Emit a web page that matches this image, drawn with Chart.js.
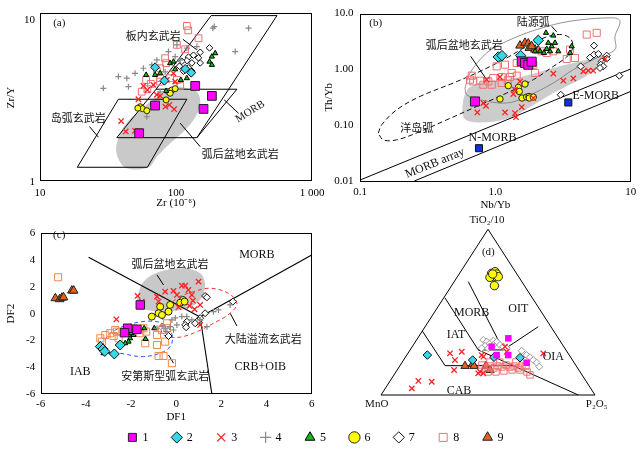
<!DOCTYPE html>
<html><head><meta charset="utf-8">
<script src="https://cdn.jsdelivr.net/npm/chart.js@4.4.1/dist/chart.umd.min.js"></script>
<style>
body{margin:0;background:#fff;width:642px;height:449px;overflow:hidden;position:relative}
canvas{position:absolute}
</style></head><body>
<canvas id="ca" width="332" height="215" style="left:0;top:0"></canvas>
<canvas id="cb" width="322" height="215" style="left:320px;top:0"></canvas>
<canvas id="cc" width="322" height="205" style="left:0;top:220px"></canvas>
<canvas id="cd" width="312" height="200" style="left:330px;top:215px"></canvas>
<canvas id="cl" width="642" height="80" style="left:-5px;top:407px"></canvas>
<script>
// ---------- Panel (a): Zr (x) vs Zr/Y (y) ----------
const A1 = [[138.4,3.93],[183.6,3.41],[159.3,2.83],[70.2,2.97],[53.6,2.0]];
const A2 = [[70.2,5.13],[82.2,4.24],[116.8,5.01],[129.3,4.75]];
const A3 = [[52.9,3.25],[61.6,3.71],[72.3,3.46],[76.4,3.41],[83.6,2.92],[89.5,3.0],[96.9,2.82],[39.5,2.38],[42.7,2.05],[50.0,2.07],[95.8,4.71],[85.6,4.28],[98.6,4.18],[57.6,3.93],[68.2,3.99]];
const A4 = [[29.2,3.80],[37.7,4.49],[43.5,4.39],[44.7,3.89],[50.0,4.71],[57.6,5.06],[66.4,5.31],[72.3,5.70],[88.0,6.42],[98.6,5.98],[101.5,7.07],[120.2,6.74],[142.4,6.90],[186.7,8.97],[190.9,9.18],[341.6,8.97],[272.5,6.42],[61.0,2.53],[76.4,3.61],[107.3,5.70],[83.2,4.80]];
const A5 = [[70.2,4.60],[76.4,4.71],[90.6,5.44],[98.6,4.99],[108.6,4.28],[120.2,4.39],[183.6,5.98],[194.2,6.27],[176.3,5.56],[183.6,5.31],[84.6,3.66],[95.8,5.56],[60.3,4.60]];
const A6 = [[88.0,3.62],[93.2,3.71],[98.6,3.78],[90.6,3.54],[54.5,2.92],[56.6,2.84],[61.0,2.76],[68.2,3.02],[84.6,3.22],[52.4,2.86]];
const A7 = [[176.3,6.77],[150.6,6.36],[134.4,6.10],[146.3,5.87],[123.5,5.93],[120.2,5.64],[110.4,5.59],[130.8,5.46],[150.6,5.46],[106.0,5.21],[123.5,5.08],[130.8,4.85],[113.4,4.85]];
const A8 = [[120.2,9.27],[123,8.7],[146.3,7.77],[101.5,7.07],[116.8,6.64],[83.2,5.84],[84.6,5.44],[76.4,5.06],[72.3,4.82],[60.3,4.28],[56.0,3.62],[61.6,3.75],[76.4,4.18],[90.6,4.39],[101.5,4.28],[107.3,3.93],[65.3,4.05],[76.4,4.39]];
const A_WPB = [[71.4,3.75],[181.4,10.74],[552.7,10.74],[142.4,1.876]];
const A_MORB = [[71.4,3.75],[280.5,3.75],[142.4,1.876],[36.7,1.876],[71.4,3.75]];
const A_IAB = [[37.7,3.25],[120.2,3.25],[61.6,1.229],[18.8,1.229],[37.7,3.25]];
const A_BAB = [[107.3,3.89],[142.4,3.62],[150.6,2.995],[134.4,2.416],[113.4,2.045],[90.6,1.732],[72.3,1.43],[62.7,1.229],[43.5,1.211],[37.1,1.43],[36.7,1.732],[42.2,2.25],[54.5,2.79],[72.3,3.34],[90.6,3.75],[107.3,3.89]];
const A_LEAD = [[[112.3,7.66],[142.4,6.58]],[[23.1,2.20],[26.9,1.887]],[[226.1,3.22],[288.2,2.66]],[[107.3,2.31],[150.6,1.65]]];
const A_XTICKS = [10,100,1000];
const A_YTICKS = [1,10];

// ---------- Panel (b): Nb/Yb (x) vs Th/Yb (y) ----------
const B1 = [[1.566,1.39],[1.656,1.30],[1.751,1.21],[1.856,1.37],[0.707,0.266]];
const B2 = [[1.051,1.667],[1.12,1.76],[1.539,1.76],[2.076,3.31]];
const B3 = [[0.736,0.169],[0.853,0.222],[0.815,0.249],[1.521,0.608],[1.397,0.431],[1.357,0.361],[1.178,0.169],[1.397,0.165],[1.421,0.139],[1.566,0.211],[1.907,0.306],[2.681,0.836],[3.177,0.626],[3.766,0.688],[4.466,0.919],[4.86,0.946],[5.29,0.946],[6.46,1.535],[0.863,0.652],[1.082,0.729]];
const B5 = [[2.367,4.50],[2.681,4.02],[2.462,2.976],[2.608,2.585],[2.758,2.976],[2.918,2.102],[2.535,2.102],[2.395,2.321],[2.288,1.967],[2.138,2.102],[1.963,2.102],[3.665,2.585],[3.561,1.967]];
const B6 = [[1.246,0.509],[1.478,0.474],[1.503,0.402],[1.656,0.546],[1.082,0.294],[1.574,0.306],[1.704,0.319],[1.772,0.327],[1.78,0.306],[1.907,0.319]];
const B7 = [[5.355,2.661],[5.355,1.834],[5.764,1.888],[6.65,1.76],[6.65,1.554],[6.107,1.39],[6.0,1.212],[6.275,1.13],[5.93,1.058],[4.27,1.13],[3.04,0.351],[8.24,0.769],[5.0,1.62]];
const B8 = [[4.73,4.195],[5.61,4.50],[3.561,2.256],[3.367,1.535],[3.877,1.60],[2.681,2.102],[2.395,1.967],[2.2,2.102],[1.438,1.301],[1.178,1.212],[1.023,1.13],[1.963,0.86],[1.907,1.212],[1.321,0.86],[1.283,0.729],[1.234,0.634],[1.114,0.729],[0.966,0.70],[0.887,0.608],[0.77,0.626],[0.687,0.608],[0.65,0.652],[0.669,0.769],[0.815,0.53],[0.94,0.53],[1.114,0.569],[1.438,0.769],[1.704,1.39]];
const B9 = [[1.521,2.661],[1.656,2.976],[1.751,2.89],[1.781,2.419],[1.963,2.256],[2.076,2.19],[1.856,2.585]];
const B_REF = [[0.757,0.0387],[3.46,0.255]]; // N-MORB, E-MORB
const B_MA1 = [[0.1,0.0104],[10,1.015]];
const B_MA2 = [[0.252,0.01],[10,0.402]];
const B_OA = [[0.1365,0.0719],[0.1446,0.1014],[0.1867,0.1885],[0.2776,0.3268],[0.489,0.5689],[0.770,0.919],[1.213,1.600],[1.704,2.585],[2.395,3.814],[3.092,4.195],[3.604,3.511],[3.728,2.419],[3.367,1.667],[2.681,1.130],[1.907,0.652],[1.213,0.376],[0.728,0.2161],[0.437,0.1246],[0.2776,0.0768],[0.1867,0.0545],[0.1486,0.0545],[0.1365,0.0719]];
const B_CA = [[0.597,0.4626],[0.650,0.860],[0.863,1.967],[1.213,3.18],[2.021,5.16],[3.561,7.27],[7.44,8.37],[8.34,7.27],[7.66,3.91],[7.66,2.256],[5.61,1.60],[3.766,0.986],[2.681,0.5689],[1.704,0.3268],[1.213,0.2487],[0.770,0.285],[0.614,0.3506],[0.597,0.4626]];
const B_BAB = [[0.631,0.4626],[0.770,0.583],[1.521,0.729],[2.681,1.058],[4.73,1.491],[6.107,1.667],[6.21,1.301],[4.73,0.769],[2.681,0.376],[1.704,0.194],[1.213,0.1283],[0.728,0.1115],[0.587,0.1338],[0.580,0.285],[0.631,0.4626]];
const B_LEAD = [[[2.608,5.91],[2.84,4.69]],[[0.6575,1.71],[0.863,0.652]]];
const B_XTICKS = [0.1,1,10];
const B_YTICKS = [0.01,0.1,1,10];

// ---------- Panel (c): DF1 (x) vs DF2 (y) ----------
const C1 = [[-1.59,0.65],[-2.15,-1.09],[-1.74,-1.17],[-2.29,-1.42]];
const C2 = [[-3.36,-2.46],[-3.24,-2.64],[-3.16,-2.82],[-2.48,-2.34],[-2.74,-3.01]];
const C3 = [[-2.65,-0.42],[-1.71,1.32],[-1.52,0.90],[-0.78,0.90],[-0.49,1.64],[-0.12,1.70],[0.03,1.40],[0.25,2.09],[0.40,2.09],[0.54,1.77],[0.69,1.40],[0.74,0.97],[0.99,2.39],[1.06,0.65],[0.81,0.33],[0.59,0.58],[0.10,0.48],[1.06,-0.84],[-0.85,1.27]];
const C4 = [[-0.85,-1.09],[-0.63,-0.92],[-0.49,-1.09],[-0.41,-1.34],[-0.27,-0.97],[-0.12,-1.22],[0.03,-0.84],[-0.19,-0.47],[0.25,-0.22],[0.47,-0.22],[0.69,-0.47],[1.36,-0.97],[1.65,0.15],[1.87,0.28],[2.39,0.65],[1.06,-0.47],[-0.04,-0.32]];
const C5 = [[-1.42,-1.09],[-0.97,-1.09],[-1.89,-1.59],[-2.04,-1.84],[-2.11,-2.09],[-2.26,-2.21],[-3.07,-2.84],[-3.22,-2.96],[-2.00,-1.46],[-1.81,-1.34],[-1.36,-1.89]];
const C6 = [[0.30,1.02],[0.18,0.82],[0.37,0.90],[-0.27,0.65],[-0.71,0.52],[-0.78,0.03],[-0.63,-0.10],[-0.34,0.15],[-1.08,-0.22]];
const C7 = [[1.28,1.32],[1.36,1.22],[1.28,0.03],[1.06,-0.34],[0.99,-0.52],[0.92,-0.60],[0.84,-0.72],[0.47,-0.60],[0.40,-0.84],[0.44,-1.02],[-0.34,-1.67],[2.51,0.90]];
const C8 = [[-5.23,2.72],[-3.36,-1.84],[-3.14,-1.59],[-2.92,-1.46],[-2.70,-1.22],[-2.77,-1.67],[-2.55,-1.84],[-2.62,-1.34],[-1.89,-1.09],[-1.45,-1.09],[-1.33,-1.34],[-1.37,-2.21],[-0.85,-2.34],[-0.85,-1.59],[-0.63,-1.22],[-0.41,-1.09],[-0.41,-0.72],[-0.49,-2.09],[-0.78,-3.16],[-0.56,-3.16],[-0.19,-3.70],[-3.29,-2.09],[-1.59,-1.46]];
const C9 = [[-5.35,1.15],[-5.16,1.08],[-5.06,1.19],[-4.99,1.22],[-4.62,1.72],[-4.54,1.72]];
const C_BOUND = [[[-3.88,4.21],[1.06,-0.25]],[[1.06,-0.25],[6.0,4.38]],[[1.06,-0.25],[1.58,-6]]];
const C_BAB = [[-1.74,1.15],[-1.45,2.39],[-0.71,3.14],[0.32,3.39],[1.06,3.02],[1.28,2.14],[1.06,1.02],[0.47,0.40],[-0.41,0.15],[-1.29,0.28],[-1.66,0.65],[-1.74,1.15]];
const C_CFB = [[-0.71,-0.97],[-0.41,0.28],[0.03,1.15],[0.77,1.64],[1.50,1.90],[2.31,1.52],[2.69,0.78],[2.39,0.03],[1.65,-0.72],[0.77,-1.46],[0.03,-1.78],[-0.56,-1.59],[-0.71,-0.97]];
const C_AND = [[-3.29,-2.46],[-2.92,-1.46],[-1.89,-0.72],[-0.85,-0.60],[-0.27,-1.22],[-0.19,-2.21],[-0.56,-2.84],[-1.45,-3.21],[-2.48,-2.96],[-3.14,-2.84],[-3.29,-2.46]];
const C_LEAD = [[[-0.85,2.89],[-0.56,2.14]],[[2.39,0.03],[2.69,-0.92]],[[-0.34,-3.08],[-0.12,-3.70]]];

// ---------- Panel (d): ternary [TiO2/10, MnO, P2O5] ----------
const D1 = [[0.342,0.234,0.424],[0.292,0.337,0.371],[0.241,0.339,0.420],[0.241,0.285,0.474],[0.195,0.222,0.583]];
const D2 = [[0.241,0.663,0.096],[0.211,0.466,0.323],[0.228,0.358,0.414],[0.225,0.238,0.537]];
const D3 = [[0.252,0.552,0.197],[0.211,0.549,0.240],[0.261,0.492,0.247],[0.151,0.583,0.266],[0.241,0.409,0.350],[0.231,0.406,0.363],[0.141,0.467,0.392],[0.131,0.480,0.389],[0.131,0.457,0.413],[0.292,0.275,0.434],[0.261,0.282,0.457],[0.040,0.836,0.124],[0.085,0.783,0.132],[0.080,0.723,0.197],[0.252,0.116,0.633]];
const D6 = [[0.735,0.116,0.150],[0.744,0.095,0.161],[0.730,0.094,0.176],[0.714,0.118,0.168],[0.710,0.136,0.154],[0.714,0.095,0.191],[0.660,0.140,0.200],[0.730,0.113,0.157]];
const D7 = [[0.332,0.356,0.312],[0.322,0.345,0.333],[0.312,0.335,0.353],[0.328,0.311,0.361],[0.322,0.298,0.380],[0.296,0.366,0.338],[0.282,0.389,0.329],[0.282,0.358,0.360],[0.302,0.293,0.405],[0.292,0.283,0.426],[0.282,0.272,0.446],[0.267,0.209,0.524],[0.241,0.199,0.560],[0.228,0.190,0.583],[0.211,0.183,0.606],[0.195,0.175,0.630],[0.171,0.175,0.654],[0.302,0.324,0.374]];
const D8 = [[0.181,0.438,0.381],[0.163,0.428,0.409],[0.175,0.403,0.422],[0.163,0.391,0.447],[0.175,0.366,0.459],[0.169,0.350,0.481],[0.181,0.325,0.494],[0.169,0.313,0.518],[0.175,0.291,0.534],[0.163,0.278,0.559],[0.175,0.254,0.571],[0.139,0.430,0.431],[0.139,0.393,0.468],[0.145,0.353,0.502],[0.151,0.312,0.537],[0.151,0.275,0.574],[0.139,0.248,0.613],[0.121,0.243,0.636],[0.175,0.235,0.590],[0.199,0.345,0.456],[0.199,0.391,0.410],[0.199,0.270,0.531]];
const D9 = [[0.175,0.520,0.305],[0.187,0.478,0.335],[0.175,0.478,0.347],[0.175,0.422,0.403],[0.151,0.415,0.434]];
const D_TRI = [[1,0,0],[0,1,0],[0,0,1],[1,0,0]];
const D_LINES = [
  [[0.587,0.408,0.005],[0.272,0.4095,0.3185]],
  [[0.684,0.25,0.066],[0.272,0.2927,0.4357]],
  [[0.272,0.2927,0.4357],[0.412,0.059,0.529]],
  [[0.272,0.4095,0.3185],[0.272,0.2927,0.4357]],
  [[0.272,0.4095,0.3185],[0,0.078,0.922]],
  [[0.386,0.614,0],[0.177,0.612,0.211],[0.177,0.2936,0.5294]]
];

// ---------- styles ----------
const SERIES = [
  {label:'1', ps:'rect', bg:'#ff00ff', bc:'#222', bw:1},
  {label:'2', ps:'rectRot', bg:'#38d8e8', bc:'#111', bw:1},
  {label:'3', ps:'crossRot', bg:'#ff2020', bc:'#ff2020', bw:1.3},
  {label:'4', ps:'cross', bg:'#888', bc:'#888', bw:1.2},
  {label:'5', ps:'triangle', bg:'#10c010', bc:'#000', bw:1},
  {label:'6', ps:'circle', bg:'#ffff00', bc:'#222', bw:1},
  {label:'7', ps:'rectRot', bg:'#ffffff', bc:'#111', bw:1},
  {label:'8', ps:'rect', bg:'rgba(0,0,0,0)', bc:'#f07070', bw:1},
  {label:'9', ps:'triangle', bg:'#e8601a', bc:'#222', bw:1}
];
const SERIF = '"Liberation Serif","Times New Roman",serif';
const CJK = '"Noto Sans CJK SC",sans-serif';
const FS = `11px ${SERIF}`;
const FC = `11px ${CJK}`;

const P = a => a.map(([x,y]) => ({x,y}));
const T = a => a.map(([t,m,p]) => { const s = t+m+p; return {x:(p + t/2)/s, y:t/s}; });

function ser(i, data, r, over){
  const s = SERIES[i-1];
  return Object.assign({label:s.label, data, showLine:false, pointStyle:s.ps, pointRadius:r, pointHoverRadius:r,
    backgroundColor:s.bg, borderColor:s.bc, borderWidth:s.bw, order:i}, over||{});
}
function line(data, color, w, dash, over){
  return Object.assign({data, showLine:true, pointRadius:0, pointHoverRadius:0, borderColor:color, borderWidth:w,
    borderDash:dash||[], fill:false, order:20, tension:0}, over||{});
}
function area(data, color){
  return {data, showLine:true, pointRadius:0, pointHoverRadius:0, borderWidth:0, borderColor:'rgba(0,0,0,0)',
    backgroundColor:color, fill:'shape', order:30, tension:0.35};
}
function framePlugin(on){
  return {id:'frame', beforeDatasetsDraw(chart){
    if(!on) return;
    const {ctx, chartArea:a} = chart;
    ctx.save(); ctx.strokeStyle='#000'; ctx.lineWidth=1;
    ctx.strokeRect(Math.round(a.left)+0.5, Math.round(a.top)+0.5, Math.round(a.right-a.left)-1, Math.round(a.bottom-a.top)-1);
    ctx.restore();
  }};
}
function textPlugin(items){
  return {id:'txt', afterDatasetsDraw(chart){
    const {ctx} = chart; const xs = chart.scales.x, ys = chart.scales.y;
    items.forEach(it => {
      ctx.save(); ctx.font = it.f || FC; ctx.fillStyle = '#111';
      ctx.textAlign = it.al || 'center'; ctx.textBaseline = 'middle';
      ctx.translate(xs.getPixelForValue(it.x), ys.getPixelForValue(it.y));
      if(it.r) ctx.rotate(it.r*Math.PI/180);
      ctx.fillText(it.t, 0, 0); ctx.restore();
    });
  }};
}
function axis(type, min, max, ticksArr, fmt, title, size, pad, isY, titlePad){
  const o = {type, min, max, grid:{display:false, drawTicks:false}, border:{display:false},
    ticks:{color:'#000', font:{family:SERIF, size:11}, padding:pad, autoSkip:false, maxRotation:0},
    title:{display:true, text:title, color:'#000', font:{family:SERIF, size:11}, padding:titlePad},
    afterFit(s){ if(isY){ s.width = size; s.paddingTop = 0; s.paddingBottom = 0; } else { s.height = size; s.paddingLeft = 0; s.paddingRight = 0; } }
  };
  if(ticksArr){ o.afterBuildTicks = s => { s.ticks = ticksArr.map(v => ({value:v})); }; }
  if(fmt){ o.ticks.callback = fmt; }
  return o;
}
const base = (padding, scales, extra) => Object.assign({responsive:false, animation:false, events:[], layout:{padding},
  plugins:{legend:{display:false}, tooltip:{enabled:false}}, scales}, extra||{});

// ---------- chart (a) ----------
new Chart(document.getElementById('ca'), {
  type:'scatter',
  data:{datasets:[
    area(P(A_BAB), '#c9c9c9'),
    line(P(A_WPB), '#000', 1), line(P(A_MORB), '#000', 1), line(P(A_IAB), '#000', 1),
    ...A_LEAD.map(l => line(P(l), '#000', 1)),
    ser(8, P(A8), 4.8), ser(4, P(A4), 3), ser(3, P(A3), 3.8), ser(7, P(A7), 3.3), ser(5, P(A5), 3),
    ser(6, P(A6), 3), ser(2, P(A2), 4.5), ser(1, P(A1), 6.2)
  ]},
  options: base({left:0, top:13.3, right:20, bottom:0}, {
    x: axis('logarithmic', 10, 1000, A_XTICKS, v => v === 1000 ? '1 000' : String(v), 'Zr (10⁻⁶)', 33.3, 4.5, false, {top:0, bottom:5}),
    y: axis('logarithmic', 1, 11.1, A_YTICKS, v => String(v), 'Zr/Y', 40, 5, true, {top:5, bottom:0})
  }),
  plugins:[framePlugin(true), textPlugin([
    {t:'(a)', x:12.5, y:9.64, f:FS, al:'left'},
    {t:'板内玄武岩', x:67.9, y:8.03},
    {t:'岛弧玄武岩', x:19.1, y:2.48},
    {t:'MORB', x:351.5, y:2.72, r:-32, f:FS},
    {t:'弧后盆地玄武岩', x:296.7, y:1.50}
  ])]
});

// ---------- chart (b) ----------
new Chart(document.getElementById('cb'), {
  type:'scatter',
  data:{datasets:[
    area(P(B_BAB), '#cccccc'),
    line(P(B_CA), '#777', 0.8, [], {tension:0.35}),
    line(P(B_OA), '#111', 1, [5,3], {tension:0.35}),
    line(P(B_MA1), '#000', 1), line(P(B_MA2), '#000', 1),
    ...B_LEAD.map(l => line(P(l), '#000', 1)),
    ser(8, P(B8), 5), ser(3, P(B3), 3.8), ser(7, P(B7), 3.5), ser(5, P(B5), 3),
    ser(6, P(B6), 3.2), ser(9, P(B9), 5), ser(2, P(B2), 5.2), ser(1, P(B1), 6.4),
    {label:'ref', data:P(B_REF), showLine:false, pointStyle:'rect', pointRadius:5, backgroundColor:'#1030e0', borderColor:'#111', borderWidth:1, order:0}
  ]},
  options: base({left:0, top:13.5, right:11.3, bottom:0}, {
    x: axis('logarithmic', 0.1, 10, B_XTICKS, v => v === 0.1 ? '0.1' : v === 1 ? '1.0' : '10', 'Nb/Yb', 34, 4.5, false, {top:0, bottom:3.4}),
    y: axis('logarithmic', 0.01, 10, B_YTICKS, v => v === 0.01 ? '0.01' : v === 0.1 ? '0.10' : v === 1 ? '1.00' : '10.0', 'Th/Yb', 40, 6.5, true, {top:2.7, bottom:0})
  }),
  plugins:[framePlugin(true), textPlugin([
    {t:'(b)', x:0.1171, y:6.80, f:FS, al:'left'},
    {t:'陆源弧', x:1.907, y:7.09},
    {t:'弧后盆地玄武岩', x:0.589, y:2.77},
    {t:'洋岛弧', x:0.2624, y:0.0907},
    {t:'N-MORB', x:0.953, y:0.06, f:`12px ${SERIF}`},
    {t:'E-MORB', x:5.52, y:0.336, f:`12px ${SERIF}`},
    {t:'MORB array', x:0.358, y:0.0208, r:-22, f:`12px ${SERIF}`}
  ])]
});

// ---------- chart (c) ----------
new Chart(document.getElementById('cc'), {
  type:'scatter',
  data:{datasets:[
    area(P(C_BAB), '#c8c8c8'),
    line(P(C_CFB), '#ff3030', 1, [4,3], {tension:0.35}),
    line(P(C_AND), '#3050ff', 1, [4,3], {tension:0.35}),
    ...C_BOUND.map(l => line(P(l), '#000', 1.1)),
    ...C_LEAD.map(l => line(P(l), '#000', 1)),
    ser(8, P(C8), 5, {borderColor:'#f08848'}), ser(4, P(C4), 3), ser(3, P(C3), 3.8), ser(7, P(C7), 3.5),
    ser(5, P(C5), 3), ser(6, P(C6), 3.5), ser(9, P(C9), 5), ser(2, P(C2), 5), ser(1, P(C1), 6)
  ]},
  options: base({left:0, top:13.3, right:10.3, bottom:0}, {
    x: axis('linear', -6, 6, [-6,-4,-2,0,2,4,6], v => String(v), 'DF1', 31, 4, false, {top:0, bottom:1.7}),
    y: axis('linear', -6, 6, [-6,-4,-2,0,2,4,6], v => String(v), 'DF2', 40.7, 5.5, true, {top:5, bottom:0})
  }),
  plugins:[framePlugin(true), textPlugin([
    {t:'(c)', x:-5.45, y:5.88, f:FS, al:'left'},
    {t:'MORB', x:3.57, y:4.38, f:`12px ${SERIF}`},
    {t:'弧后盆地玄武岩', x:-0.27, y:3.69},
    {t:'大陆溢流玄武岩', x:3.86, y:-1.91},
    {t:'CRB+OIB', x:3.72, y:-3.96, f:`12px ${SERIF}`},
    {t:'IAB', x:-4.25, y:-4.33, f:`12px ${SERIF}`},
    {t:'安第斯型弧玄武岩', x:-0.49, y:-4.65}
  ])]
});

// ---------- chart (d) ternary ----------
new Chart(document.getElementById('cd'), {
  type:'scatter',
  data:{datasets:[
    line(T(D_TRI), '#000', 1),
    ...D_LINES.map(l => line(T(l), '#000', 1)),
    ser(8, T(D8), 4.5), ser(7, T(D7), 3.5, {borderColor:'#999'}), ser(3, T(D3), 3.8),
    ser(6, T(D6), 4.2), ser(9, T(D9), 4.8), ser(2, T(D2), 4.3), ser(1, T(D1), 4.6, {borderWidth:0})
  ]},
  options: base({left:51, top:14.3, right:47, bottom:20}, {
    x:{type:'linear', min:0, max:1, display:false},
    y:{type:'linear', min:0, max:1, display:false}
  }, {clip:false}),
  plugins:[textPlugin([
    {t:'(d)', x:0.5014, y:0.861, f:FS},
    {t:'OIT', x:0.6416, y:0.5172, f:`12px ${SERIF}`},
    {t:'MORB', x:0.4238, y:0.4931, f:`12px ${SERIF}`},
    {t:'IAT', x:0.3505, y:0.3603, f:`12px ${SERIF}`},
    {t:'OIA', x:0.8051, y:0.2311, f:`12px ${SERIF}`},
    {t:'CAB', x:0.3645, y:0.0241, f:`12px ${SERIF}`},
    {t:'TiO₂/10', x:0.4953, y:1.056, f:FS},
    {t:'MnO', x:-0.02, y:-0.056, f:FS},
    {t:'P₂O₅', x:1.008, y:-0.056, f:FS}
  ])]
});

// ---------- legend ----------
new Chart(document.getElementById('cl'), {
  type:'scatter',
  data:{datasets: SERIES.map(s => ({label:s.label, data:[], pointStyle:s.ps, backgroundColor:s.bg, borderColor:s.bc, borderWidth:s.bw}))},
  options:{responsive:false, animation:false, events:[],
    scales:{x:{display:false}, y:{display:false}},
    plugins:{tooltip:{enabled:false}, legend:{display:true, position:'top',
      labels:{usePointStyle:true, boxWidth:8, boxHeight:8, padding:24.4, color:'#000', font:{family:SERIF, size:12}}}}}
});
</script>
</body></html>
